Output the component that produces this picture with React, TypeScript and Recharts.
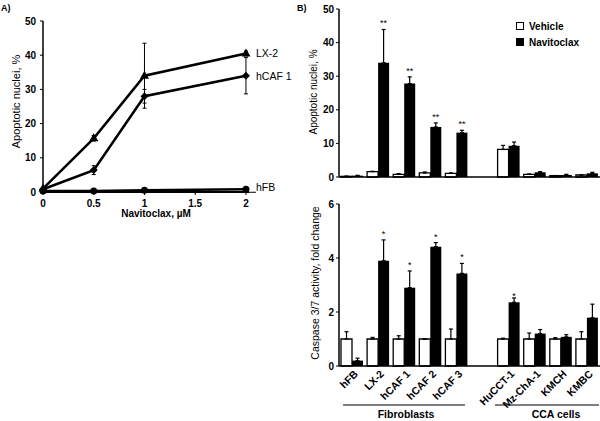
import React from "react";
import {
  LineChart,
  Line,
  BarChart,
  Bar,
  XAxis,
  YAxis,
  ErrorBar,
  LabelList,
  Legend,
} from "recharts";

const FONT = "'Liberation Sans', Arial, Helvetica, sans-serif";

// panel A: dose response
const doses = [0, 0.5, 1, 2];
const lx2 = [1.0, 15.7, 34.0, 40.5];
const lx2Err = [0.3, 0.8, 9.5, 0.7];
const hcaf1 = [0.8, 6.4, 28.0, 34.0];
const hcaf1Err = [0.3, 1.3, 2.0, 5.3];
const hfb = [0.3, 0.3, 0.5, 0.8];
const hfbErr = [0.1, 0.1, 0.2, 0.2];
const doseTicks = [0, 0.5, 1, 1.5, 2];
const apoTicks = [0, 10, 20, 30, 40, 50];

// panel B: cell lines (blank slot separates the two groups)
const cellLines = ["hFB", "LX-2", "hCAF 1", "hCAF 2", "hCAF 3", " ", "HuCCT-1", "Mz-ChA-1", "KMCH", "KMBC"];
const apoVehicle = [0.2, 1.6, 0.8, 1.2, 1.1, null, 8.2, 0.8, 0.4, 0.6];
const apoVehicleErr = [0.05, 0.1, 0.2, 0.3, 0.1, null, 1.2, 0.1, 0.05, 0.05];
const apoNavitoclax = [0.4, 34.0, 27.8, 14.9, 13.2, null, 9.3, 1.4, 0.6, 1.1];
const apoNavitoclaxErr = [0.1, 9.9, 2.0, 1.2, 0.7, null, 1.1, 0.2, 0.2, 0.3];
const apoSig = ["", "**", "**", "**", "**", "", "", "", "", ""];

const caspVehicle = [1, 1, 1, 1, 1, null, 1, 1, 1, 1];
const caspVehicleErr = [0.27, 0.06, 0.12, 0.0, 0.37, null, 0.03, 0.22, 0.05, 0.27];
const caspNavitoclax = [0.2, 3.9, 2.9, 4.42, 3.43, null, 2.36, 1.2, 1.08, 1.79];
const caspNavitoclaxErr = [0.09, 0.77, 0.62, 0.15, 0.37, null, 0.16, 0.15, 0.08, 0.5];
const caspSig = ["", "*", "*", "*", "*", "", "*", "", "", ""];
const caspTicks = [0, 2, 4, 6];

const legendOrder = ["Vehicle", "Navitoclax"];

const doseData = doses.map((d, i) => ({
  dose: d,
  lx2: lx2[i],
  lx2Err: lx2Err[i],
  hcaf1: hcaf1[i],
  hcaf1Err: hcaf1Err[i],
  hfb: hfb[i],
  hfbErr: hfbErr[i],
}));

function barRows(veh: (number | null)[], vehErr: (number | null)[], nav: (number | null)[], navErr: (number | null)[], sig: string[]) {
  return cellLines.map((name, i) => ({
    name,
    veh: veh[i],
    vehErr: vehErr[i] == null ? null : [0, vehErr[i]],
    nav: nav[i],
    navErr: navErr[i] == null ? null : [0, navErr[i]],
    sig: sig[i],
  }));
}

const apoData = barRows(apoVehicle, apoVehicleErr, apoNavitoclax, apoNavitoclaxErr, apoSig);
const caspData = barRows(caspVehicle, caspVehicleErr, caspNavitoclax, caspNavitoclaxErr, caspSig);

const tickStyle = { fontSize: 10, fontWeight: 700, fill: "#000", fontFamily: FONT };
const axisLine = { stroke: "#000", strokeWidth: 1.5 };

function Triangle(props: any) {
  const { cx, cy } = props;
  if (cx == null || cy == null) return null;
  return <path d={`M${cx},${cy - 5}L${cx + 4.5},${cy + 3}L${cx - 4.5},${cy + 3}Z`} fill="#000" />;
}

function Diamond(props: any) {
  const { cx, cy } = props;
  if (cx == null || cy == null) return null;
  return <path d={`M${cx},${cy - 4}L${cx + 4},${cy}L${cx},${cy + 4}L${cx - 4},${cy}Z`} fill="#000" />;
}

function Dot(props: any) {
  const { cx, cy } = props;
  if (cx == null || cy == null) return null;
  return <circle cx={cx} cy={cy} r={3.5} fill="#000" />;
}

function EndLabel(props: any) {
  const { index, text, dy = 0, leader = false } = props;
  if (index !== doses.length - 1) return null;
  const vb = props.viewBox || {};
  const x = props.x ?? vb.x;
  const y = props.y ?? vb.y;
  return (
    <g>
      {leader && <line x1={x + 2} y1={y + 3} x2={x + 10} y2={y + 3} stroke="#000" strokeWidth={1} />}
      <text x={x + 10} y={y + dy} dominantBaseline="central" fontSize={10.5} fontFamily={FONT} fill="#000">
        {text}
      </text>
    </g>
  );
}

function StarLabel(props: any) {
  const { index, value, vals, errs } = props;
  if (!value) return null;
  const vb = props.viewBox || props;
  const v = vals[index];
  const e = errs[index] ?? 0;
  const top = vb.y - (v ? (e * vb.height) / v : 0);
  return (
    <text x={vb.x + vb.width / 2} y={top - 3} textAnchor="middle" fontSize={9} fontFamily={FONT} fill="#000">
      {value}
    </text>
  );
}

function YTitle(props: any) {
  const { text, dx, dy = 0, size = 10.5 } = props;
  const vb = props.viewBox || { x: 0, y: 0, width: 0, height: 0 };
  const x = vb.x + dx;
  const y = vb.y + vb.height / 2 + dy;
  return (
    <text x={x} y={y} transform={`rotate(-90, ${x}, ${y})`} textAnchor="middle" dominantBaseline="central" fontSize={size} fontFamily={FONT} fill="#000">
      {text}
    </text>
  );
}

function XTitle(props: any) {
  const vb = props.viewBox || { x: 0, y: 0, width: 0, height: 0 };
  return (
    <text x={vb.x + vb.width / 2 + 10} y={vb.y + 25} textAnchor="middle" fontSize={10} fontWeight={700} fontFamily={FONT} fill="#000">
      Navitoclax, µM
    </text>
  );
}

function SlantTick(props: any) {
  const { x, y, payload } = props;
  return (
    <g transform={`translate(${x + 4},${y})`}>
      <text textAnchor="end" transform="rotate(-45)" dy="0.35em" fontSize={10.5} fontWeight={700} fontFamily={FONT} fill="#000">
        {payload.value}
      </text>
    </g>
  );
}

function LegendBox(props: any) {
  const items = [...(props.payload || [])].sort(
    (a: any, b: any) => legendOrder.indexOf(a.value) - legendOrder.indexOf(b.value)
  );
  return (
    <div style={{ fontFamily: FONT, fontSize: 10, fontWeight: 700 }}>
      {items.map((it: any) => (
        <div key={it.value} style={{ display: "flex", alignItems: "center", height: 16 }}>
          <span
            style={{
              width: 6,
              height: 6,
              border: "1px solid #000",
              background: it.color,
              marginRight: 5,
              display: "inline-block",
            }}
          />
          <span>{it.value}</span>
        </div>
      ))}
    </div>
  );
}

export default function App() {
  return (
    <div style={{ position: "absolute", left: 0, top: 0, width: 600, height: 421, background: "#fff", overflow: "hidden" }}>
      <div style={{ position: "absolute", left: 0, top: 0 }}>
        <LineChart width={300} height={230} data={doseData} margin={{ top: 21, right: 51, bottom: 18, left: 8 }}>
          <XAxis
            dataKey="dose"
            type="number"
            domain={[0, 2.03]}
            ticks={doseTicks}
            tick={tickStyle}
            axisLine={{ stroke: "#000", strokeWidth: 2 }}
            tickLine={{ stroke: "#000" }}
            tickSize={3}
            tickMargin={5}
            height={20}
            label={<XTitle />}
          />
          <YAxis
            type="number"
            domain={[0, 50]}
            ticks={apoTicks}
            tick={tickStyle}
            axisLine={axisLine}
            tickLine={{ stroke: "#000" }}
            tickSize={3}
            tickMargin={4}
            width={35}
            label={<YTitle text="Apoptotic nuclei, %" dx={8} dy={-5} size={11} />}
          />
          <Line dataKey="hfb" stroke="#000" strokeWidth={2.5} dot={<Dot />} isAnimationActive={false}>
            <ErrorBar dataKey="hfbErr" direction="y" width={2} stroke="#000" strokeWidth={1} />
            <LabelList dataKey="hfb" content={<EndLabel text="hFB" dy={-2} leader />} />
          </Line>
          <Line dataKey="hcaf1" stroke="#000" strokeWidth={2.5} dot={<Diamond />} isAnimationActive={false}>
            <ErrorBar dataKey="hcaf1Err" direction="y" width={2} stroke="#000" strokeWidth={1} />
            <LabelList dataKey="hcaf1" content={<EndLabel text="hCAF 1" />} />
          </Line>
          <Line dataKey="lx2" stroke="#000" strokeWidth={2.5} dot={<Triangle />} isAnimationActive={false}>
            <ErrorBar dataKey="lx2Err" direction="y" width={2} stroke="#000" strokeWidth={1} />
            <LabelList dataKey="lx2" content={<EndLabel text="LX-2" />} />
          </Line>
        </LineChart>
      </div>

      <div style={{ position: "absolute", left: 270, top: 0 }}>
        <BarChart width={330} height={195} data={apoData} margin={{ top: 9, right: 0, bottom: 17, left: 29 }} barGap={0} barSize={11}>
          <XAxis dataKey="name" tick={false} tickLine={false} axisLine={axisLine} height={1} />
          <YAxis
            type="number"
            domain={[0, 50]}
            ticks={apoTicks}
            tick={tickStyle}
            axisLine={axisLine}
            tickLine={{ stroke: "#000" }}
            tickSize={3}
            tickMargin={2}
            width={40}
            label={<YTitle text="Apoptotic nuclei, %" dx={14} dy={-1} size={10} />}
          />
          <Legend
            layout="vertical"
            align="center"
            verticalAlign="middle"
            content={<LegendBox />}
            wrapperStyle={{ left: 246, top: 18, width: 90, height: 34 }}
          />
          <Bar dataKey="veh" name="Vehicle" fill="#fff" stroke="#000" strokeWidth={1.3} isAnimationActive={false}>
            <ErrorBar dataKey="vehErr" width={2} stroke="#000" strokeWidth={1.2} />
          </Bar>
          <Bar dataKey="nav" name="Navitoclax" fill="#000" isAnimationActive={false}>
            <ErrorBar dataKey="navErr" width={2} stroke="#000" strokeWidth={1.2} />
            <LabelList dataKey="sig" content={<StarLabel vals={apoNavitoclax} errs={apoNavitoclaxErr} />} />
          </Bar>
        </BarChart>
      </div>

      <div style={{ position: "absolute", left: 270, top: 195 }}>
        <BarChart width={330} height={226} data={caspData} margin={{ top: 9, right: 0, bottom: 0, left: 29 }} barGap={0} barSize={11}>
          <XAxis dataKey="name" tick={<SlantTick />} tickLine={false} tickSize={4} tickMargin={2} axisLine={axisLine} height={55} interval={0} />
          <YAxis
            type="number"
            domain={[0, 6]}
            ticks={caspTicks}
            tick={tickStyle}
            axisLine={axisLine}
            tickLine={{ stroke: "#000" }}
            tickSize={3}
            tickMargin={2}
            width={40}
            label={<YTitle text="Caspase 3/7 activity, fold change" dx={16} dy={-2} size={10.5} />}
          />
          <Bar dataKey="veh" name="Vehicle" fill="#fff" stroke="#000" strokeWidth={1.3} isAnimationActive={false}>
            <ErrorBar dataKey="vehErr" width={2} stroke="#000" strokeWidth={1.2} />
          </Bar>
          <Bar dataKey="nav" name="Navitoclax" fill="#000" isAnimationActive={false}>
            <ErrorBar dataKey="navErr" width={2} stroke="#000" strokeWidth={1.2} />
            <LabelList dataKey="sig" content={<StarLabel vals={caspNavitoclax} errs={caspNavitoclaxErr} />} />
          </Bar>
        </BarChart>
      </div>

      {/* panel letters and group brackets */}
      <svg width={600} height={421} style={{ position: "absolute", left: 0, top: 0, pointerEvents: "none" }}>
        <g fontFamily={FONT} fontSize={9} fontWeight={700} fill="#000">
          <text x={1} y={11}>A)</text>
          <text x={297} y={11}>B)</text>
        </g>
        <g stroke="#000" strokeWidth={1}>
          <line x1={343} y1={405} x2={465} y2={405} />
          <line x1={495} y1={405} x2={599} y2={405} />
        </g>
        <g fontFamily={FONT} fontSize={10.5} fontWeight={700} fill="#000" textAnchor="middle">
          <text x={406} y={418}>Fibroblasts</text>
          <text x={556} y={418}>CCA cells</text>
        </g>
      </svg>
    </div>
  );
}
